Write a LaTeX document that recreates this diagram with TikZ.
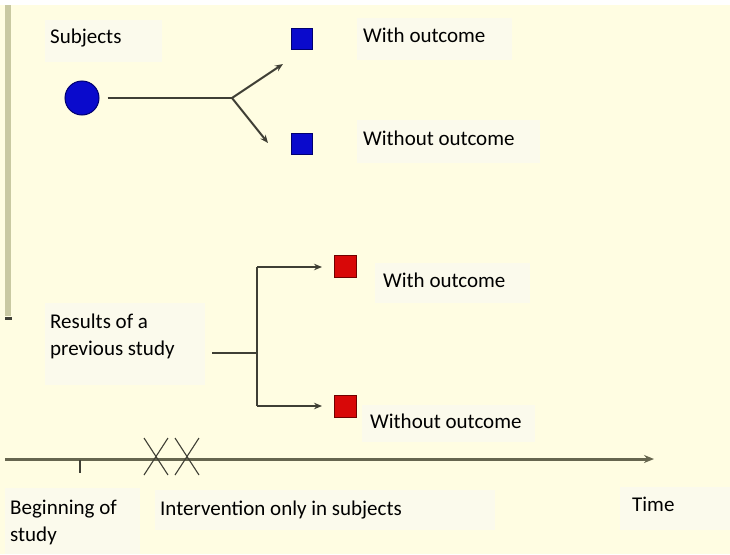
\documentclass[tikz,border=0pt]{standalone}
\usepackage{fontspec}
\setmainfont{Carlito}
\usetikzlibrary{arrows.meta}
\definecolor{bg}{HTML}{FFFDE2}
\definecolor{boxfill}{HTML}{FBFAEC}
\definecolor{linec}{HTML}{3F3F35}
\definecolor{axisc}{HTML}{66664F}
\definecolor{bluef}{HTML}{0A0ACC}
\definecolor{blued}{HTML}{000070}
\definecolor{redf}{HTML}{D80808}
\definecolor{redd}{HTML}{700000}
\definecolor{barc}{HTML}{C9C9A2}
\tikzset{
  lbl/.style={font=\fontsize{21}{27}\selectfont, text=black, anchor=base west, inner sep=0pt, align=left},
  tbox/.style={fill=boxfill, draw=none},
  bsq/.style={draw=blued, fill=bluef, line width=1pt, minimum size=21pt, inner sep=0pt},
  rsq/.style={draw=redd, fill=redf, line width=1pt, minimum size=22pt, inner sep=0pt},
  conn/.style={draw=linec, line width=2pt},
  arr/.style={conn, -{Stealth[length=8pt,width=6.5pt]}},
}
\begin{document}
\begin{tikzpicture}[x=1pt,y=-1pt]
\useasboundingbox (0,0) rectangle (730,554);
\fill[bg] (0,5) rectangle (730,554);
\fill[white] (0,0) rectangle (730,5);
% left bar
\fill[barc] (5,5) rectangle (11,316);
\fill[linec] (5,316.5) rectangle (12,319.5);
% faint text boxes
\fill[tbox] (45,20) rectangle (162,62);
\fill[tbox] (357,18) rectangle (512,60);
\fill[tbox] (357,120) rectangle (540,163);
\fill[tbox] (375,263) rectangle (530,303);
\fill[tbox] (45,303) rectangle (205,385);
\fill[tbox] (362,405) rectangle (535,442);
\fill[tbox] (5,488) rectangle (140,554);
\fill[tbox] (155,490) rectangle (495,530);
\fill[tbox] (620,487) rectangle (730,530);

% top part
\node[circle, draw=blued, fill=bluef, line width=1pt, minimum size=34pt, inner sep=0pt] (subj) at (82,98) {};
\node[bsq] (bw) at (302,39) {};
\node[bsq] (bwo) at (302,144) {};
\coordinate (j1) at (232,98);
\coordinate (e1) at (283,64);
\coordinate (e2) at (268,143);
\draw[conn] (subj.east) ++(8,0) -- (j1);
\draw[arr] (j1) -- (e1);
\draw[arr] (j1) -- (e2);
\node[lbl] (tsubj) at (50,43) {Subjects};
\node[lbl] (tbw) at (363,42) {With outcome};
\node[lbl] (tbwo) at (363,145) {Without outcome};

% middle part
\node[lbl] (tres) at (50,355) {Results of a\\previous study};
\node[rsq] (rw) at (345,266) {};
\node[rsq] (rwo) at (345,406) {};
\coordinate (j2) at (257,353);
\coordinate (h0) at (212,353);
\coordinate (t2) at (257,267);
\coordinate (b2) at (257,406);
\draw[conn, line width=2.3pt] (h0) -- (j2);
\draw[conn, line width=2.6pt] (t2) -- (b2);
\draw[arr] (t2) -- (322,267) coordinate (ta);
\draw[arr] (b2) -- (322,406) coordinate (ba);
\node[lbl] (trw) at (383,287) {With outcome};
\node[lbl] (trwo) at (370,428) {Without outcome};

% timeline
\coordinate (ax0) at (5,459);
\coordinate (ax1) at (654,459);
\draw[draw=axisc, line width=3pt, -{Stealth[length=10pt,width=8pt]}] (ax0) -- (ax1);
\draw[linec, line width=1.2pt] (80,460) -- (80,473);
\foreach \cx in {156,187} {
  \draw[linec, line width=1.1pt] (\cx-12,438) -- (\cx+12,475);
  \draw[linec, line width=1.1pt] (\cx+12,438) -- (\cx-12,475);
}
\node[lbl] (tbeg) at (10,541) {Beginning of\\study};
\node[lbl] (tint) at (160,515) {Intervention only in subjects};
\node[lbl] (ttime) at (632,511) {Time};
\end{tikzpicture}
\end{document}
